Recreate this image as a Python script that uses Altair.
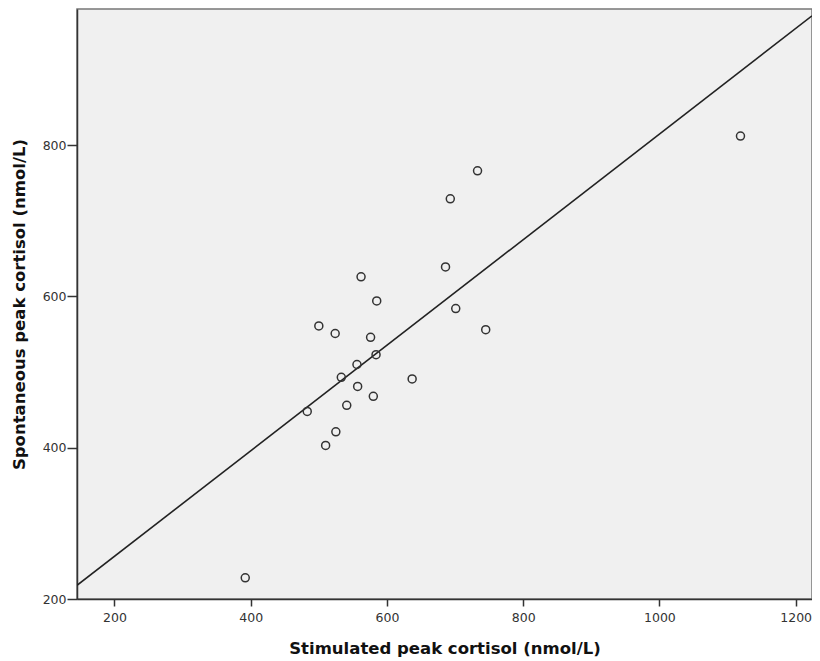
import altair as alt
import pandas as pd

# Data
stimulated = [392, 1119, 733, 693, 562, 686, 585, 701, 745, 500, 524, 576,
              584, 556, 533, 637, 557, 580, 541, 483, 525, 510]
spontaneous = [228, 812, 766, 729, 626, 639, 594, 584, 556, 561, 551, 546,
               523, 510, 493, 491, 481, 468, 456, 448, 421, 403]

# Fit line endpoints (at the plot's x extent)
line_x = [145, 1224]
line_y = [218, 971]

x_ticks = [200, 400, 600, 800, 1000, 1200]
y_ticks = [200, 400, 600, 800]

pts = pd.DataFrame({"x": stimulated, "y": spontaneous})
ln = pd.DataFrame({"x": line_x, "y": line_y})

xs = alt.Scale(domain=[145, 1224], nice=False, zero=False)
ys = alt.Scale(domain=[200, 980], nice=False, zero=False)

font = "DejaVu Sans"

xaxis = alt.Axis(values=x_ticks, grid=False, format="d", title="Stimulated peak cortisol (nmol/L)",
                 domainColor="#333333", domainWidth=1.5, tickColor="#333333", tickWidth=1.5,
                 tickSize=7, labelFontSize=12.5, labelColor="#333333", labelFont=font,
                 labelPadding=5, titleFont=font, titleFontSize=16.5, titleFontWeight="bold",
                 titleColor="#111111", titlePadding=17)
yaxis = alt.Axis(values=y_ticks, grid=False, format="d", title="Spontaneous peak cortisol (nmol/L)",
                 domainColor="#333333", domainWidth=1.5, tickColor="#333333", tickWidth=1.5,
                 tickSize=10, labelFontSize=12.5, labelColor="#333333", labelFont=font,
                 labelPadding=1, titleFont=font, titleFontSize=16.5, titleFontWeight="bold",
                 titleColor="#111111", titlePadding=15)

points = alt.Chart(pts).mark_point(shape="circle", filled=False, size=64,
                                   strokeWidth=1.5, color="#333333", opacity=1).encode(
    x=alt.X("x:Q", scale=xs, axis=xaxis),
    y=alt.Y("y:Q", scale=ys, axis=yaxis),
)

line = alt.Chart(ln).mark_line(color="#222222", strokeWidth=1.6, clip=True).encode(
    x=alt.X("x:Q", scale=xs),
    y=alt.Y("y:Q", scale=ys),
)

chart = alt.layer(line, points).properties(
    width=735, height=590,
    autosize=alt.AutoSizeParams(type="none"),
    padding={"left": 69, "top": 1, "right": 0, "bottom": 62},
    background="white",
).configure_view(fill="#F0F0F0", stroke="#777777", strokeWidth=1.5)

chart.save("out.html", embed_options={"renderer": "svg", "actions": False})
